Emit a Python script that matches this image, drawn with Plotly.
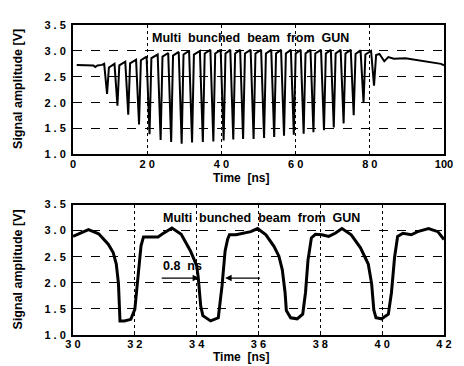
import plotly.graph_objects as go

# ---------------- data ----------------
# Top panel: multi bunched beam, 0-100 ns
t_top = [1.0, 4.0, 5.5, 6.0, 6.6, 7.8, 8.4, 9.18,
         9.68, 11.18, 11.98,
         12.48, 14.09, 14.89,
         15.39, 17.0, 17.80,
         18.30, 19.83, 20.63,
         21.13, 22.82, 23.62,
         24.12, 25.66, 26.46,
         26.96, 28.49, 29.29,
         29.79, 31.29, 32.09,
         32.59, 34.2, 35.0,
         35.5, 37.03, 37.83,
         38.33, 39.8, 40.6,
         41.1, 42.4, 43.2,
         43.7, 45.05, 45.85,
         46.35, 47.88, 48.68,
         49.18, 50.7, 51.5,
         52.0, 53.43, 54.23,
         54.73, 56.08, 56.88,
         57.38, 58.72, 59.52,
         60.02, 61.37, 62.17,
         62.67, 64.01, 64.81,
         65.31, 66.85, 67.65,
         68.15, 69.49, 70.29,
         70.79, 72.14, 72.94,
         73.44, 74.86, 75.66,
         76.16, 77.51, 78.31,
         78.81, 80.34, 81.14,
         81.7, 82.6, 83.9, 85.0, 86.5, 89.6, 92.2, 95.7, 99.2, 100.0]
v_top = [2.73, 2.72, 2.72, 2.69, 2.72, 2.73, 2.75, 2.17,
         2.68, 2.75, 1.94,
         2.72, 2.79, 1.77,
         2.76, 2.83, 1.58,
         2.82, 2.89, 1.39,
         2.86, 2.93, 1.28,
         2.89, 2.96, 1.24,
         2.91, 2.98, 1.21,
         2.93, 3.00, 1.23,
         2.93, 3.00, 1.24,
         2.95, 3.02, 1.25,
         2.95, 3.02, 1.27,
         2.95, 3.02, 1.29,
         2.95, 3.02, 1.30,
         2.95, 3.02, 1.30,
         2.95, 3.02, 1.32,
         2.95, 3.02, 1.34,
         2.95, 3.02, 1.36,
         2.95, 3.02, 1.38,
         2.95, 3.02, 1.40,
         2.95, 3.02, 1.43,
         2.95, 3.02, 1.47,
         2.95, 3.02, 1.52,
         2.95, 3.02, 1.60,
         2.95, 3.02, 1.76,
         2.94, 3.01, 2.00,
         2.93, 3.00, 2.33,
         2.92, 2.94, 2.80, 2.88, 2.85, 2.86, 2.83, 2.79, 2.75, 2.72]

# Bottom panel: zoom 30-42 ns
t_bot = [30.0, 30.5, 30.83, 31.14, 31.3, 31.4, 31.47, 31.52, 31.66, 31.87,
         32.0, 32.1, 32.2, 32.28, 32.75, 32.9, 33.2, 33.5, 33.8, 34.0,
         34.05, 34.13, 34.2, 34.45, 34.7, 34.82, 34.92, 35.0, 35.06, 35.27,
         35.5, 35.75, 35.97, 36.24, 36.5, 36.66, 36.77, 36.86, 36.9, 37.04,
         37.25, 37.43, 37.52, 37.6, 37.71, 37.84, 38.05, 38.27, 38.48, 38.7,
         39.0, 39.3, 39.55, 39.66, 39.73, 39.8, 39.98, 40.2, 40.3, 40.4,
         40.5, 40.67, 40.94, 41.15, 41.5, 41.8, 42.0]
v_bot = [2.89, 3.02, 2.94, 2.74, 2.58, 2.36, 1.99, 1.27, 1.27, 1.30,
         1.49, 2.18, 2.71, 2.88, 2.88, 2.94, 3.05, 2.93, 2.61, 2.33,
         2.11, 1.56, 1.37, 1.27, 1.33, 1.94, 2.61, 2.83, 2.92, 2.92,
         2.95, 2.98, 3.04, 2.92, 2.70, 2.51, 2.25, 1.81, 1.47, 1.33,
         1.31, 1.40, 1.81, 2.43, 2.86, 2.93, 2.92, 2.89, 2.95, 3.04,
         2.92, 2.67, 2.36, 1.98, 1.48, 1.33, 1.31, 1.40, 1.81, 2.48,
         2.89, 2.95, 2.92, 2.98, 3.04, 2.98, 2.83]

top_xticks = [0, 20, 40, 60, 80, 100]
top_xlabels = ["0", "2 0", "4 0", "6 0", "8 0", "100"]
bot_xticks = [30, 32, 34, 36, 38, 40, 42]
bot_xlabels = ["3 0", "3 2", "3 4", "3 6", "3 8", "4 0", "4 2"]
yticks = [1.0, 1.5, 2.0, 2.5, 3.0, 3.5]
ylabels = ["1 . 0", "1 . 5", "2 . 0", "2 . 5", "3 . 0", "3 . 5"]

title_text = "Multi\u00a0 bunched\u00a0 beam\u00a0 from\u00a0 GUN"

# ---------------- figure ----------------
FONT = "Liberation Sans, Arial, sans-serif"
fig = go.Figure()
fig.add_trace(go.Scatter(x=t_top, y=v_top, mode="lines",
                         line=dict(color="black", width=2),
                         xaxis="x", yaxis="y", showlegend=False))
fig.add_trace(go.Scatter(x=t_bot, y=v_bot, mode="lines",
                         line=dict(color="black", width=3),
                         xaxis="x2", yaxis="y2", showlegend=False))

axis_common = dict(showline=True, mirror=True, linecolor="black", linewidth=2,
                   gridcolor="black", gridwidth=1.3, zeroline=False,
                   ticks="inside", ticklen=3, tickcolor="black",
                   tickfont=dict(family=FONT, size=11, color="black", weight="bold"))
xaxis_common = dict(ticklabelstandoff=-2, griddash="dot", **axis_common)
yaxis_common = dict(ticklabelstandoff=3, griddash="dash", range=[1.0, 3.5],
                    tickvals=yticks, ticktext=ylabels, **axis_common)

# The page keeps the browser's 8px body margin, so the figure sits at (8, 8):
# size and margins are chosen so the plot areas land where the reference has them.
fig.update_layout(
    width=456, height=358,
    margin=dict(l=65, r=12, t=11, b=31),
    paper_bgcolor="white", plot_bgcolor="white",
    xaxis=dict(domain=[0, 1], anchor="y", range=[0, 100],
               tickvals=top_xticks, ticktext=top_xlabels, **xaxis_common),
    yaxis=dict(domain=[0.5823, 1], anchor="x", **yaxis_common),
    xaxis2=dict(domain=[0, 1], anchor="y2", range=[30, 42],
                tickvals=bot_xticks, ticktext=bot_xlabels, **xaxis_common),
    yaxis2=dict(domain=[0, 0.4209], anchor="x2", **yaxis_common),
)

bold = dict(family=FONT, size=12.5, color="black", weight="bold")
bold12 = dict(family=FONT, size=12, color="black", weight="bold")
ctr = dict(xanchor="center", yanchor="middle", showarrow=False)
ann = [
    dict(text=title_text, x=47.9, y=3.24, xref="x", yref="y", font=bold, **ctr),
    dict(text=title_text, x=36.1, y=3.24, xref="x2", yref="y2", font=bold, **ctr),
    dict(text="Time\u00a0 [ns]", x=0.454, y=(335 - 174.5) / 316, xref="paper", yref="paper",
         font=bold12, **ctr),
    dict(text="Time\u00a0 [ns]", x=0.454, y=(335 - 357.5) / 316, xref="paper", yref="paper",
         font=bold12, **ctr),
    dict(text="Signal amplitude [V]", x=-56 / 379, y=(335 - 84) / 316, xref="paper", yref="paper",
         textangle=-90, font=bold, **ctr),
    dict(text="Signal amplitude [V]", x=-56 / 379, y=(335 - 268) / 316, xref="paper", yref="paper",
         textangle=-90, font=bold, **ctr),
    dict(text="0.8\u00a0 ns", x=33.55, y=2.33, xref="x2", yref="y2", font=bold, **ctr),
    dict(text="", x=34.08, y=2.09, ax=32.82, ay=2.09, xref="x2", yref="y2",
         axref="x2", ayref="y2", showarrow=True, arrowhead=2, arrowsize=1,
         arrowwidth=1.3, arrowcolor="black"),
    dict(text="", x=34.92, y=2.09, ax=36.1, ay=2.09, xref="x2", yref="y2",
         axref="x2", ayref="y2", showarrow=True, arrowhead=2, arrowsize=1,
         arrowwidth=1.3, arrowcolor="black"),
]
fig.update_layout(annotations=ann)

fig.write_html("out.html")
